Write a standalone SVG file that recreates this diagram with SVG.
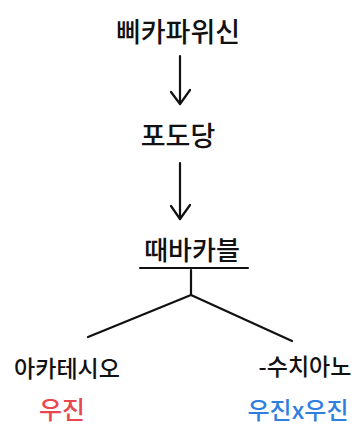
<svg xmlns="http://www.w3.org/2000/svg" width="361" height="433" viewBox="0 0 361 433">
  <defs>
    <style>
      .t { font-family: "Noto Sans CJK KR", "Noto Sans", sans-serif; fill: #111; text-anchor: middle; font-weight: 500; }
      .ln { stroke: #111; stroke-width: 2.2; fill: none; stroke-linecap: round; stroke-linejoin: round; }
      .red { fill: #e8474f; }
      .blue { fill: #2f7fe0; }
    </style>
  </defs>
  <rect width="361" height="433" fill="#ffffff"/>

  <g id="connectors">
    <path class="ln" d="M180 56 L180 103"/>
    <path class="ln" d="M171 92 L180 104 L190 90"/>
    <path class="ln" d="M180 163 L180 219"/>
    <path class="ln" d="M171 206 L180 219 L190 205"/>
    <path class="ln" d="M191 270 L191 295"/>
    <path class="ln" d="M191 295 L88 337"/>
    <path class="ln" d="M191 295 L292 341"/>
  </g>

  <g id="node-top">
    <text class="t" x="178" y="42" font-size="27">삐카파위신</text>
  </g>
  <g id="node-middle">
    <text class="t" x="178" y="146" font-size="27">포도당</text>
  </g>
  <g id="node-third">
    <text class="t" x="192" y="260" font-size="26">때바카블</text>
    <path class="ln" d="M140 268 L248 268"/>
  </g>
  <g id="node-left">
    <text class="t" x="67" y="377" font-size="23">아카테시오</text>
    <text class="t red" x="62" y="419" font-size="25">우진</text>
  </g>
  <g id="node-right">
    <text class="t" x="305" y="375" font-size="23">-수치아노</text>
    <text class="t blue" x="298" y="419" font-size="24">우진x우진</text>
  </g>
</svg>
